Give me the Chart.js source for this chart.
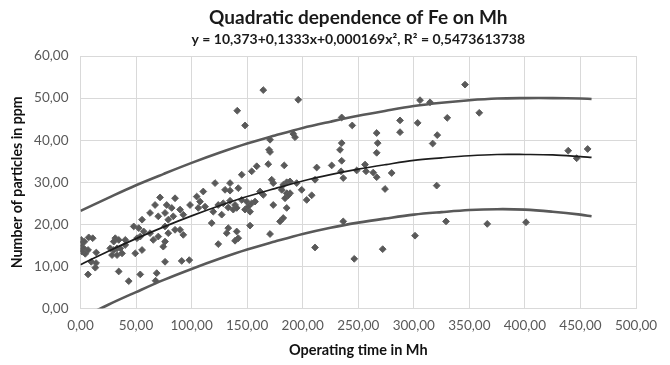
<!DOCTYPE html>
<html>
<head>
<meta charset="utf-8">
<script src="https://cdn.jsdelivr.net/npm/chart.js@4/dist/chart.umd.min.js"></script>
<style>
  html, body { margin: 0; padding: 0; background: #ffffff; }
  #wrap { width: 670px; height: 365px; }
</style>
</head>
<body>
<div id="wrap"><canvas id="c" width="670" height="365"></canvas></div>
<script>
// ---- Data ----
const chartTitle = "Quadratic dependence of Fe on Mh";
const chartSubtitle = "y = 10,373+0,1333x+0,000169x², R² = 0,5473613738";
const xAxisTitle = "Operating time in Mh";
const yAxisTitle = "Number of particles in ppm";

const xTicks = [0, 50, 100, 150, 200, 250, 300, 350, 400, 450, 500];
const yTicks = [0, 10, 20, 30, 40, 50, 60];

// Observations (operating time in Mh, particles in ppm)
const timeMh = [
  0.7, 7.4, 11.0, 0.5, 2.9, 4.3, 6.8, 1.4, 9.7, 14.0, 13.3, 6.8, 14.2, 1.0, 3.6,
  31.3, 29.9, 34.4, 40.3, 26.8, 29.9, 32.9, 35.8, 37.4, 28.4, 32.9, 40.3, 34.4, 43.4, 53.8, 49.3, 55.4, 50.9, 53.8, 56.9, 47.9, 55.4, 52.4,
  71.6, 85.1, 67.1, 77.6, 82.1, 62.6, 70.0, 76.1, 83.5, 89.6, 98.6, 104.6, 110.5, 107.6, 112.1, 106.0, 92.5, 79.0, 62.6, 65.5, 70.0, 76.1, 79.0, 85.1, 89.6, 92.5, 76.1, 74.5, 76.1, 91.1, 97.9, 68.6, 121.1, 67.6,
  164.5, 141.1, 148.1, 170.6, 169.7, 170.6, 169.0, 158.6, 154.1, 145.1, 172.1, 173.5, 134.6, 130.1, 134.6, 142.0, 124.0, 128.5, 134.6, 139.1, 145.1, 149.6, 154.1, 157.1, 161.6, 164.5, 119.5, 127.1, 133.0, 137.5, 140.6, 148.1, 151.0, 152.6, 118.1, 133.0, 140.6, 131.6, 142.0, 139.1, 124.0, 152.6, 173.5, 170.6,
  196.0, 191.5, 193.1, 235.1, 244.6, 235.1, 233.6, 235.1, 234.5, 236.5, 226.1, 212.6, 183.4, 185.6, 188.6, 182.5, 181.1, 185.6, 188.6, 187.0, 184.1, 194.6, 199.1, 203.6, 208.1, 211.1, 185.6, 182.5, 179.6, 236.5, 211.1, 246.4,
  346.1, 305.6, 314.6, 358.9, 287.6, 303.5, 330.1, 266.6, 287.6, 321.1, 317.0, 267.5, 266.6, 248.6, 256.1, 257.0, 263.5, 266.6, 280.1, 274.1, 320.6, 329.0, 366.1, 401.0, 301.1, 272.0, 439.0, 446.6, 456.5
];
const particlesPpm = [
  16.3, 16.9, 16.7, 14.2, 14.3, 13.0, 13.9, 13.5, 11.1, 10.8, 9.7, 8.1, 13.3, 15.4, 15.9,
  16.7, 15.9, 16.3, 16.3, 14.3, 13.9, 14.3, 14.3, 13.1, 12.7, 12.7, 15.1, 8.8, 6.5, 8.1, 13.1, 13.9, 16.7, 17.1, 18.3, 19.5, 21.1, 19.1,
  26.4, 26.2, 24.6, 24.6, 23.9, 22.7, 21.9, 22.7, 21.9, 23.5, 24.6, 26.6, 27.8, 25.4, 24.2, 23.9, 22.3, 21.1, 17.9, 16.3, 17.1, 19.5, 17.9, 18.7, 18.7, 17.5, 15.9, 14.7, 11.1, 11.3, 11.5, 8.4, 29.8, 6.6,
  51.9, 47.0, 43.5, 40.1, 37.7, 37.2, 34.3, 33.8, 32.6, 31.8, 30.6, 29.8, 29.8, 28.2, 28.0, 28.6, 24.6, 25.0, 25.6, 24.6, 25.8, 25.4, 25.0, 25.4, 27.8, 27.0, 23.0, 22.3, 24.0, 23.5, 23.9, 23.5, 24.2, 23.0, 20.3, 19.1, 18.3, 17.9, 16.7, 16.1, 15.3, 19.7, 24.6, 17.7,
  49.6, 41.5, 40.7, 45.4, 43.5, 39.3, 37.7, 35.1, 32.6, 31.0, 34.0, 33.5, 34.0, 30.0, 30.2, 29.4, 28.2, 27.4, 27.4, 26.9, 26.2, 29.8, 28.2, 25.8, 26.9, 30.6, 23.9, 21.5, 20.7, 20.7, 14.5, 11.8,
  53.2, 49.5, 49.0, 46.5, 44.7, 44.1, 45.3, 41.7, 41.9, 41.2, 39.2, 39.3, 37.0, 32.8, 34.2, 32.6, 32.3, 31.2, 32.2, 28.4, 29.2, 20.7, 20.1, 20.5, 17.3, 14.1, 37.5, 35.7, 37.9
];

// Fitted curve and band curves
const curveX = [0, 25, 50, 75, 100, 125, 150, 175, 200, 225, 250, 275, 300, 325, 350, 375, 400, 425, 450, 460];
const trendY = [10.4, 13.6, 16.6, 19.4, 22.0, 24.4, 26.6, 28.5, 30.3, 31.8, 33.1, 34.2, 35.2, 35.8, 36.3, 36.6, 36.6, 36.5, 36.1, 35.9];
const upperY = [23.2, 26.3, 29.3, 32.0, 34.6, 37.0, 39.2, 41.1, 42.9, 44.4, 45.8, 47.0, 48.1, 48.9, 49.5, 49.9, 50.0, 50.0, 49.9, 49.8];
const lowerY = [-2.4, 0.9, 3.9, 6.8, 9.4, 11.8, 14.0, 15.9, 17.7, 19.2, 20.4, 21.4, 22.3, 22.9, 23.4, 23.6, 23.5, 23.0, 22.3, 21.9];

// ---- Build chart ----
const pts = (xs, ys) => xs.map((x, i) => ({ x: x, y: ys[i] }));
const fmt = v => Number(v).toFixed(2).replace('.', ',');
const FONT = "Lato, 'Open Sans', sans-serif";

const lineDs = (label, ys, color, width) => ({
  type: 'line', label: label, data: pts(curveX, ys),
  borderColor: color, borderWidth: width, pointRadius: 0,
  fill: false, tension: 0.35, showLine: true
});

new Chart(document.getElementById('c'), {
  type: 'scatter',
  data: {
    datasets: [
      lineDs('Fit', trendY, '#1c1c1c', 1.7),
      lineDs('Upper', upperY, '#595959', 2.6),
      lineDs('Lower', lowerY, '#595959', 2.6),
      {
        label: 'Fe', data: pts(timeMh, particlesPpm),
        pointStyle: 'rectRot', pointRadius: 3.4, borderWidth: 1,
        backgroundColor: '#595959', borderColor: '#5f5f5f', showLine: false
      }
    ]
  },
  options: {
    responsive: false, animation: false, devicePixelRatio: 1,
    layout: { padding: { left: 0, right: 34, top: 0, bottom: 0 } },
    plugins: {
      legend: { display: false },
      tooltip: { enabled: false },
      title: {
        display: true, text: chartTitle, fullSize: false, color: '#1a1a1a',
        font: { family: FONT, size: 19, weight: 'bold' },
        padding: { top: 6, bottom: 0 }
      },
      subtitle: {
        display: true, text: chartSubtitle, fullSize: false, color: '#1a1a1a',
        font: { family: FONT, size: 14, weight: 'bold' },
        padding: { top: 2.3, bottom: 8.1 }
      }
    },
    scales: {
      x: {
        type: 'linear', min: 0, max: 500,
        afterBuildTicks: s => { s.ticks = xTicks.map(v => ({ value: v })); },
        afterFit: s => { s.height = 56.5; },
        ticks: { callback: fmt, color: '#595959', padding: 9, maxRotation: 0, font: { family: FONT, size: 13.5 } },
        grid: { color: '#d9d9d9', lineWidth: 1, drawTicks: false },
        border: { color: '#d9d9d9' },
        title: { display: true, text: xAxisTitle, color: '#111111', font: { family: FONT, size: 14.5, weight: 'bold' }, padding: { top: 4, bottom: 6 } }
      },
      y: {
        type: 'linear', min: 0, max: 60,
        afterBuildTicks: s => { s.ticks = yTicks.map(v => ({ value: v })); },
        afterFit: s => { s.width = 80.5; },
        ticks: { callback: fmt, color: '#595959', padding: 12, font: { family: FONT, size: 13.5 } },
        grid: { color: '#d9d9d9', lineWidth: 1, drawTicks: false },
        border: { color: '#d9d9d9' },
        title: { display: true, text: yAxisTitle, color: '#111111', font: { family: FONT, size: 14.2, weight: 'bold' }, padding: { top: 9, bottom: 4 } }
      }
    }
  }
});
</script>
</body>
</html>
